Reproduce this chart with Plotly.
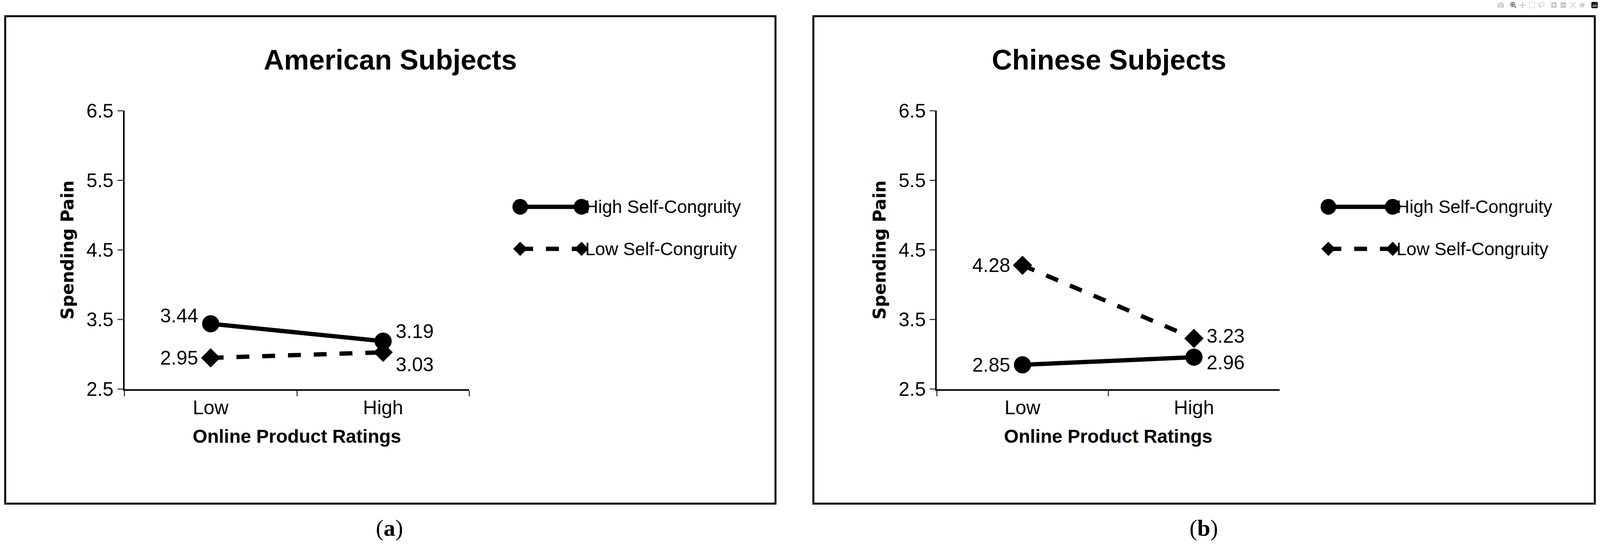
import plotly.graph_objects as go

categories = ["Low", "High"]
am_high = [3.44, 3.19]
am_low = [2.95, 3.03]
cn_high = [2.85, 2.96]
cn_low = [4.28, 3.23]
titles = ["American Subjects", "Chinese Subjects"]
series_names = ["High Self-Congruity", "Low Self-Congruity"]
yticks = [2.5, 3.5, 4.5, 5.5, 6.5]

W, H = 4306, 1433
FONT = "Liberation Sans Narrow, Liberation Sans, sans-serif"
fig = go.Figure()

panels = [
    dict(xa="x", ya="y", high=am_high, low=am_low, dom=[335/W, 1263/W],
         box=[14, 2087], leg=[1400, 1565], cap="(<b>a</b>)", capx=1048, titlex=1050,
         hoff=[(-1, 20), (1, 25)], loff=[(-1, 0), (1, -32)]),
    dict(xa="x2", ya="y2", high=cn_high, low=cn_low, dom=[2521/W, 3444/W],
         box=[2189, 4292], leg=[3575, 3748], cap="(<b>b</b>)", capx=3240, titlex=2985,
         hoff=[(-1, 0), (1, -14)], loff=[(-1, 0), (1, 6)]),
]

annotations = []
shapes = []
for i, p in enumerate(panels):
    fig.add_trace(go.Scatter(x=categories, y=p["high"], xaxis=p["xa"], yaxis=p["ya"],
                             mode="lines+markers", line=dict(color="black", width=11),
                             marker=dict(symbol="circle", size=44, color="black"),
                             showlegend=False, cliponaxis=False))
    fig.add_trace(go.Scatter(x=categories, y=p["low"], xaxis=p["xa"], yaxis=p["ya"],
                             mode="lines+markers", line=dict(color="black", width=11, dash="dash"),
                             marker=dict(symbol="diamond", size=38, color="black"),
                             showlegend=False, cliponaxis=False))
    for vals, offs in [(p["high"], p["hoff"]), (p["low"], p["loff"])]:
        for cat, v, (side, ys) in zip(categories, vals, offs):
            annotations.append(dict(x=cat, y=v, xref=p["xa"], yref=p["ya"], text=f"{v:.2f}",
                                    showarrow=False, xanchor="right" if side < 0 else "left",
                                    xshift=-30 if side < 0 else 30, yshift=ys,
                                    font=dict(size=50, color="black", family=FONT)))
    annotations.append(dict(x=p["titlex"]/W, y=1-130/H, xref="paper", yref="paper",
                            xanchor="center", yanchor="middle",
                            text=f"<b>{titles[i]}</b>", showarrow=False,
                            font=dict(size=72, color="black", family=FONT)))
    annotations.append(dict(x=p["capx"]/W, y=1-1378/H, xref="paper", yref="paper", text=p["cap"],
                            xanchor="center", yanchor="middle",
                            showarrow=False, font=dict(size=60, color="black", family="Liberation Serif, serif")))
    shapes.append(dict(type="rect", xref="paper", yref="paper", x0=p["box"][0]/W, x1=p["box"][1]/W,
                       y0=1-1313/H, y1=1-14/H, line=dict(color="black", width=5)))
    lx0, lx1 = p["leg"]
    for k, (yy, dash, sym) in enumerate([(522, "solid", "circle"), (634, "dash", "diamond")]):
        y = 1 - yy/H
        shapes.append(dict(type="line", xref="paper", yref="paper", x0=lx0/W, x1=lx1/W, y0=y, y1=y,
                           line=dict(color="black", width=11, dash=dash)))
        for mx in (lx0, lx1):
            if sym == "circle":
                r = 21
                shapes.append(dict(type="circle", xref="paper", yref="paper",
                                   x0=(mx-r)/W, x1=(mx+r)/W, y0=y-r/H, y1=y+r/H,
                                   fillcolor="black", line=dict(width=0)))
            else:
                r = 19
                shapes.append(dict(type="path", xref="paper", yref="paper",
                                   path=f"M {(mx-r)/W} {y} L {mx/W} {y+r/H} L {(mx+r)/W} {y} L {mx/W} {y-r/H} Z",
                                   fillcolor="black", line=dict(width=0)))
        annotations.append(dict(x=(lx1+8)/W, y=y, xref="paper", yref="paper", text=series_names[k],
                                showarrow=False, xanchor="left", yanchor="middle",
                                font=dict(size=46, color="black", family=FONT)))

axis_common_x = dict(type="category", range=[-0.5, 1.5], tickson="boundaries", ticks="outside",
                     ticklen=14, tickwidth=3, showline=True, linecolor="black", linewidth=4,
                     showgrid=False, zeroline=False, tickfont=dict(size=50, family=FONT, color="black"),
                     title=dict(text="<b>Online Product Ratings</b>", font=dict(size=48, family=FONT, color="black"), standoff=30))
axis_common_y = dict(range=[2.5, 6.5], tickvals=yticks, ticktext=[f"{t:.1f}" for t in yticks],
                     ticks="outside", ticklen=14, tickwidth=3, showline=True, linecolor="black",
                     linewidth=4, showgrid=False, zeroline=False,
                     tickfont=dict(size=50, family=FONT, color="black"),
                     title=dict(text="<b>Spending Pain</b>", font=dict(size=44, family="DejaVu Sans, sans-serif", color="black"), standoff=20))

fig.update_layout(
    autosize=True, margin=dict(l=0, r=0, t=0, b=0),
    paper_bgcolor="white", plot_bgcolor="white", showlegend=False,
    xaxis=dict(domain=panels[0]["dom"], anchor="y", **axis_common_x),
    yaxis=dict(domain=[1-1008/H, 1-266/H], anchor="x", **axis_common_y),
    xaxis2=dict(domain=panels[1]["dom"], anchor="y2", **axis_common_x),
    yaxis2=dict(domain=[1-1008/H, 1-266/H], anchor="x2", **axis_common_y),
    annotations=annotations, shapes=shapes,
)
fig.write_html("out.html", default_width="100vw", default_height="100vh",
               post_script="document.body.style.margin='0';document.body.style.overflow='hidden';")
